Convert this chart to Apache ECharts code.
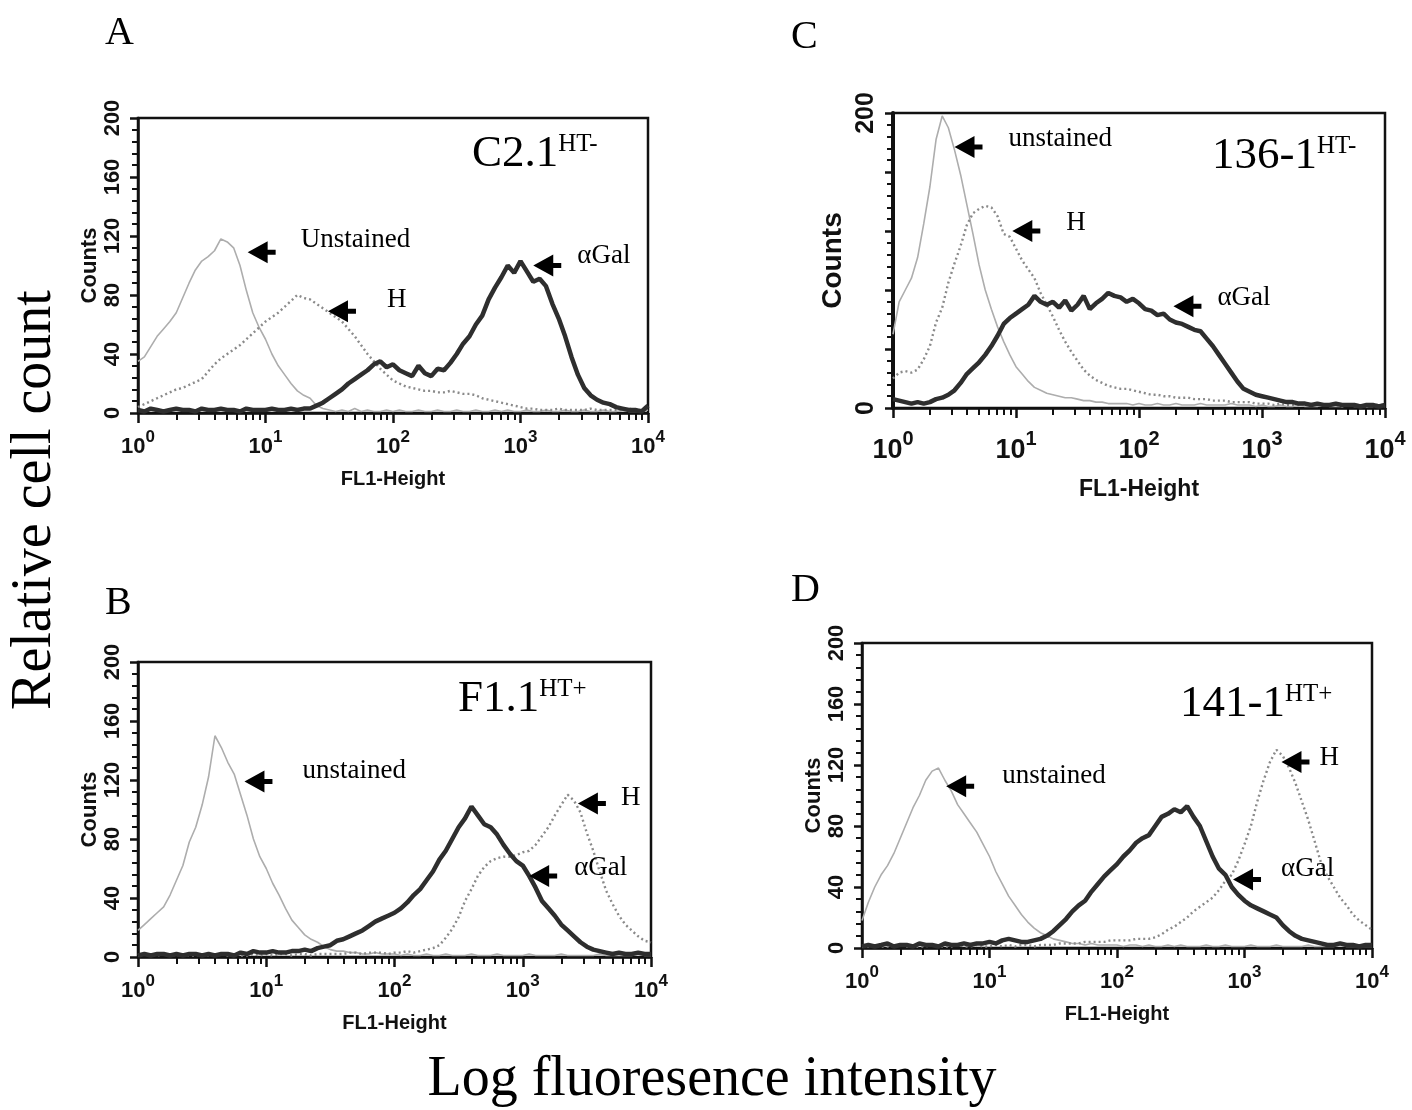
<!DOCTYPE html>
<html lang="en">
<head>
<meta charset="UTF-8" />
<title>FL1 histograms</title>
<style>
  * { margin: 0; padding: 0; }
  body { background: #fff; }
  #chart { width: 1412px; height: 1110px; }
</style>
<script src="https://cdn.jsdelivr.net/npm/echarts@6/dist/echarts.min.js"></script>
</head>
<body>
<div id="chart"></div>
<script>
// channel positions in decades (log10 of FL1 intensity)
const decades = [
  0, 0.05, 0.1, 0.15, 0.2, 0.25, 0.3, 0.35, 0.4, 0.45,
  0.5, 0.55, 0.6, 0.65, 0.7, 0.75, 0.8, 0.85, 0.9, 0.95,
  1, 1.05, 1.1, 1.15, 1.2, 1.25, 1.3, 1.35, 1.4, 1.45,
  1.5, 1.55, 1.6, 1.65, 1.7, 1.75, 1.8, 1.85, 1.9, 1.95,
  2, 2.05, 2.1, 2.15, 2.2, 2.25, 2.3, 2.35, 2.4, 2.45,
  2.5, 2.55, 2.6, 2.65, 2.7, 2.75, 2.8, 2.85, 2.9, 2.95,
  3, 3.05, 3.1, 3.15, 3.2, 3.25, 3.3, 3.35, 3.4, 3.45,
  3.5, 3.55, 3.6, 3.65, 3.7, 3.75, 3.8, 3.85, 3.9, 3.95,
  4
];
const decadeTicks = [0, 1, 2, 3, 4];
const countTicks = [0, 40, 80, 120, 160, 200];

// A: C2.1 HT-
const unstainedA = [35,38,45,52,57,62,68,78,88,97,103,106,110,118,116,112,100,83,68,58,
  50,40,32,26,20,15,12,10,5,3,2,1,2,1,3,1,2,1,1,2,
  1,2,1,1,2,1,1,2,1,1,2,1,1,2,1,1,2,1,2,1,
  1,2,1,1,2,1,1,2,1,1,2,1,1,2,1,1,2,1,1,1,2];
const hA = [4,6,8,10,12,14,16,17,19,21,23,28,33,37,40,43,46,50,54,58,
  62,65,68,72,76,80,78,77,74,71,68,65,62,57,52,46,40,35,30,26,
  22,20,18,17,16,15,15,14,14,15,14,13,13,12,10,9,8,7,6,5,
  4,3,3,2,2,2,3,2,2,2,2,3,2,2,2,2,2,3,2,2,2];
const alphaA = [2,1,3,2,1,2,3,2,2,1,3,2,2,3,2,2,1,3,2,2,
  2,3,2,2,3,2,3,3,5,7,10,13,16,20,23,26,29,33,35,31,
  33,29,27,25,32,27,25,30,29,34,40,47,52,60,66,77,85,92,100,95,
  103,96,89,91,86,74,64,52,38,26,17,12,9,7,6,4,3,2,2,1,5];

// C: 136-1 HT-
const unstainedC = [50,72,80,88,102,125,150,182,198,190,175,158,138,118,97,80,67,55,45,36,
  28,23,18,14,12,10,9,8,7,7,6,5,5,4,4,3,3,3,3,2,
  3,2,2,3,2,2,3,2,2,2,3,2,2,2,2,3,2,2,2,1,
  2,1,1,2,1,1,2,1,1,1,2,1,1,1,2,1,1,1,1,2,1];
const hC = [20,24,25,24,26,33,42,58,68,85,98,110,124,132,135,137,136,130,118,116,
  108,100,94,88,78,70,62,53,45,38,32,26,22,19,17,15,14,13,13,12,
  11,10,9,9,8,8,7,7,7,6,6,6,5,5,5,4,4,4,4,3,
  3,3,2,3,2,2,2,3,2,2,2,2,2,1,2,2,2,1,2,2,2];
const alphaC = [6,5,4,3,4,3,4,6,7,9,12,17,23,27,31,36,42,49,57,61,
  64,67,70,76,72,70,72,68,73,66,70,76,67,71,74,78,76,75,72,74,
  71,67,66,63,64,60,58,57,55,53,52,47,42,36,30,24,18,13,11,9,
  8,7,6,5,4,4,3,3,2,3,2,2,3,2,2,2,1,2,2,1,2];

// B: F1.1 HT+
const unstainedB = [18,22,26,30,34,42,52,62,78,88,103,122,150,142,132,124,110,96,80,68,
  60,50,42,33,25,20,15,12,10,7,5,4,4,3,3,2,2,3,2,2,
  2,1,2,1,1,2,1,1,2,1,1,1,2,1,1,1,2,1,1,1,
  1,2,1,1,1,1,2,1,1,1,1,1,2,1,1,1,1,1,2,1,1];
const hB = [1,2,1,1,2,1,1,2,1,1,2,1,1,2,1,2,1,1,2,1,
  2,1,2,2,1,2,2,1,2,2,2,2,2,3,3,2,3,3,3,2,
  3,3,4,3,4,5,6,8,13,19,27,38,46,55,61,65,67,68,68,69,
  71,72,76,82,88,96,103,110,106,98,84,72,58,45,36,28,22,18,14,11,10];
const alphaB = [1,2,1,2,2,1,2,1,2,2,1,2,1,2,2,1,3,2,4,3,
  3,4,3,3,4,4,5,4,6,7,8,11,12,14,16,18,21,24,26,28,
  30,33,37,42,46,52,58,66,72,80,88,94,102,96,90,88,83,76,70,65,
  62,55,47,38,33,28,22,18,14,10,7,5,4,3,2,3,2,2,3,2,2];

// D: 141-1 HT+
const unstainedD = [18,30,40,48,54,62,72,82,92,100,110,116,118,110,103,94,88,82,76,68,
  60,50,42,34,28,22,17,13,10,8,6,5,4,3,3,2,3,2,2,2,
  2,1,2,2,1,2,1,1,2,1,2,1,1,1,2,1,1,2,1,1,
  1,2,1,1,1,2,1,1,1,1,2,1,1,1,1,2,1,1,1,1,1];
const hD = [1,1,2,1,1,1,2,1,1,1,1,2,1,1,1,2,1,1,2,1,
  1,2,1,2,1,2,2,1,2,2,2,3,3,3,3,4,4,4,4,5,
  5,5,5,6,6,6,7,9,12,14,17,20,24,27,30,33,38,44,48,57,
  68,80,96,110,122,130,126,118,108,96,84,70,56,47,40,33,28,22,18,15,12];
const alphaD = [1,2,1,2,3,1,2,2,1,3,2,2,1,3,2,2,3,2,3,3,
  4,3,5,6,5,4,4,5,6,8,11,15,19,24,28,31,37,42,47,51,
  55,60,64,69,72,74,80,86,88,91,89,93,86,80,70,60,52,48,40,35,
  31,28,26,24,22,20,15,11,8,6,5,4,3,2,2,3,2,2,1,2,2];

// arrow notes: [decade, count, text]
const notesA = [[0.86, 109, 'Unstained'], [1.49, 69, 'H'], [3.10, 100, 'αGal']];
const notesC = [[0.50, 177, 'unstained'], [0.97, 120, 'H'], [2.28, 69, 'αGal']];
const notesB = [[0.83, 119, 'unstained'], [3.43, 104, 'H'], [3.05, 55, 'αGal']];
const notesD = [[0.66, 106, 'unstained'], [3.29, 122, 'H'], [2.91, 45, 'αGal']];

const serif = "'Liberation Serif', 'Times New Roman', serif";
const sans = "'Liberation Sans', Arial, sans-serif";
const arrowPath = 'path://M0,11L20,0L20,8.5L28,8.5L28,13.5L20,13.5L20,22Z';

// minor tick positions inside each decade (2..9)
const minorTicks = [];
for (let d = 0; d < 4; d++) {
  for (let k = 2; k <= 9; k++) minorTicks.push(d + Math.log10(k));
}

const panels = [
  { letter: 'A', name: 'C2.1', sup: 'HT-', u: unstainedA, h: hA, a: alphaA, notes: notesA,
    grid: { left: 138, top: 118, width: 510, height: 295 },
    letterPos: [100, 8], titlePos: [467, 127],
    gaps: [[25, -12], [31, -11], [16, -10]], big: false },
  { letter: 'C', name: '136-1', sup: 'HT-', u: unstainedC, h: hC, a: alphaC, notes: notesC,
    grid: { left: 893, top: 113, width: 492, height: 295 },
    letterPos: [786, 12], titlePos: [1207, 129],
    gaps: [[26, -8], [26, -8], [16, -8]], big: true },
  { letter: 'B', name: 'F1.1', sup: 'HT+', u: unstainedB, h: hB, a: alphaB, notes: notesB,
    grid: { left: 138, top: 662, width: 513, height: 295 },
    letterPos: [100, 578], titlePos: [453, 672],
    gaps: [[30, -11], [15, -6], [17, -8]], big: false },
  { letter: 'D', name: '141-1', sup: 'HT+', u: unstainedD, h: hD, a: alphaD, notes: notesD,
    grid: { left: 862, top: 643, width: 510, height: 305 },
    letterPos: [786, 565], titlePos: [1175, 677],
    gaps: [[28, -10], [10, -4], [20, -10]], big: false }
];

const pairs = (vals) => decades.map((x, i) => [x, vals[i]]);

const option = {
  animation: false,
  backgroundColor: '#fff',
  grid: [], xAxis: [], yAxis: [], series: [], title: [],
  graphic: [
    { type: 'text', x: 35, y: 500, rotation: Math.PI / 2,
      style: { text: 'Relative cell count', font: '56px ' + serif, fill: '#000',
        align: 'center', verticalAlign: 'middle' } },
    { type: 'text', x: 712, y: 1080,
      style: { text: 'Log fluoresence intensity', font: '56px ' + serif, fill: '#000',
        align: 'center', verticalAlign: 'middle' } }
  ]
};

panels.forEach((p, i) => {
  const big = p.big;
  option.grid.push(Object.assign({ show: true, borderColor: '#111', borderWidth: 2.5,
    backgroundColor: 'transparent' }, p.grid));

  // decade ticks + labels
  option.xAxis.push({
    gridIndex: i, type: 'value', min: 0, max: 4, position: 'bottom',
    name: 'FL1-Height', nameLocation: 'middle', nameGap: big ? 70 : 56,
    nameTextStyle: { fontFamily: sans, fontWeight: 'bold', fontSize: big ? 23 : 20, color: '#111' },
    axisLine: { lineStyle: { color: '#111', width: 2.5 } },
    axisTick: { customValues: decadeTicks, length: 10, lineStyle: { color: '#111', width: 2.5 } },
    axisLabel: {
      customValues: decadeTicks, margin: big ? 21 : 16, color: '#111',
      formatter: (v) => '{b|10}{s|' + v + '}',
      rich: {
        b: { fontFamily: sans, fontWeight: 'bold', fontSize: big ? 27 : 22,
          padding: [big ? 8 : 7, 0, 0, 0] },
        s: { fontFamily: sans, fontWeight: 'bold', fontSize: big ? 20 : 17, verticalAlign: 'top' }
      }
    },
    splitLine: { show: false }
  });
  // minor log ticks
  option.xAxis.push({
    gridIndex: i, type: 'value', min: 0, max: 4, position: 'bottom', offset: 0,
    axisLine: { show: false },
    axisTick: { customValues: minorTicks, length: 7, lineStyle: { color: '#111', width: 2 } },
    axisLabel: { show: false }, splitLine: { show: false }
  });

  option.yAxis.push({
    gridIndex: i, type: 'value', min: 0, max: 200, interval: 40,
    name: 'Counts', nameLocation: 'middle', nameGap: big ? 46 : 33, nameRotate: 90,
    nameTextStyle: { fontFamily: sans, fontWeight: 'bold', fontSize: big ? 28 : 22, color: '#111' },
    axisLine: { lineStyle: { color: '#111', width: big ? 4 : 2.5 } },
    axisTick: { length: 8, lineStyle: { color: '#111', width: 2.5 } },
    minorTick: { show: true, splitNumber: 5, length: 6, lineStyle: { color: '#111', width: 2 } },
    axisLabel: {
      customValues: big ? [0, 200] : countTicks, rotate: 90, margin: 14, color: '#111',
      fontFamily: sans, fontWeight: 'bold', fontSize: big ? 25 : 22
    },
    splitLine: { show: false }, minorSplitLine: { show: false }
  });

  option.title.push({
    text: p.letter, left: p.letterPos[0], top: p.letterPos[1],
    textStyle: { fontFamily: serif, fontWeight: 'normal', fontSize: 40, color: '#000' }
  });
  option.title.push({
    text: '{m|' + p.name + '}{s|' + p.sup + '}', left: p.titlePos[0], top: p.titlePos[1],
    textStyle: {
      fontWeight: 'normal',
      rich: {
        m: { fontFamily: serif, fontWeight: 'normal', fontSize: 45, color: '#000' },
        s: { fontFamily: serif, fontWeight: 'normal', fontSize: 25, color: '#000',
          verticalAlign: 'top' }
      }
    }
  });

  const common = { xAxisIndex: 2 * i, yAxisIndex: i, type: 'line', showSymbol: false,
    symbol: 'none', silent: true };
  option.series.push(Object.assign({ name: 'unstained ' + p.letter, data: pairs(p.u),
    lineStyle: { color: '#adadad', width: 1.6 } }, common));
  option.series.push(Object.assign({ name: 'H ' + p.letter, data: pairs(p.h),
    lineStyle: { color: '#8a8a8a', width: 2.4, type: [2, 3] } }, common));
  option.series.push(Object.assign({ name: 'aGal ' + p.letter, data: pairs(p.a),
    lineStyle: { color: '#2e2e2e', width: 4.5 },
    markPoint: {
      symbol: arrowPath, symbolSize: [28, 22], symbolOffset: [14, 0],
      itemStyle: { color: '#000' },
      label: { show: true, position: 'right', formatter: '{b}', color: '#000',
        fontFamily: serif, fontSize: 27 },
      data: p.notes.map((n, k) => ({
        name: n[2], coord: [n[0], n[1]],
        label: { distance: p.gaps[k][0], offset: [0, p.gaps[k][1]] }
      }))
    } }, common));
});

const chart = echarts.init(document.getElementById('chart'));
chart.setOption(option);
</script>
</body>
</html>
